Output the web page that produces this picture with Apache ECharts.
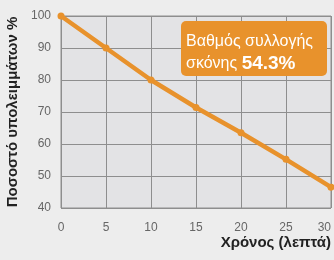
<!DOCTYPE html>
<html>
<head>
<meta charset="utf-8">
<script src="https://cdn.jsdelivr.net/npm/echarts@6/dist/echarts.min.js"></script>
<style>
  html, body { margin: 0; padding: 0; background: #ededed; }
  #chart { width: 334px; height: 260px; }
</style>
</head>
<body>
<div id="chart"></div>
<script>
const minutes = [0, 5, 10, 15, 20, 25, 30];
const residue = [100, 90, 80, 71.4, 63.5, 55.2, 46.5];
const collectionRate = '54.3%';

const dom = document.getElementById('chart');
const myChart = echarts.init(dom);
const orange = '#e8922c';
const font = 'Liberation Sans, Arial, sans-serif';
const option = {
    backgroundColor: '#ededed',
    textStyle: { fontFamily: font },
    grid: {
        left: 61, right: 3, top: 16, bottom: 52,
        outerBoundsMode: 'none', containLabel: false,
        show: true, backgroundColor: '#e3e3e5', borderColor: '#8e8e8e', borderWidth: 1
    },
    xAxis: {
        type: 'value',
        min: 0,
        max: 30,
        interval: 5,
        name: 'Χρόνος (λεπτά)',
        nameLocation: 'end',
        nameGap: 0,
        nameMoveOverlap: false,
        nameTextStyle: { color: '#222', fontSize: 15, fontWeight: 'bold', align: 'right', verticalAlign: 'top', padding: [27, 0, 0, 0] },
        axisLine: { show: false },
        axisTick: { show: false },
        axisLabel: { color: '#666', fontSize: 12, margin: 14, alignMaxLabel: 'right' },
        splitLine: { lineStyle: { color: '#8e8e8e', width: 1 } }
    },
    yAxis: {
        type: 'value',
        min: 40,
        max: 100,
        interval: 10,
        name: 'Ποσοστό υπολειμμάτων %',
        nameLocation: 'middle',
        nameGap: 40,
        nameTextStyle: { color: '#222', fontSize: 15, fontWeight: 'bold' },
        axisLine: { show: false },
        axisTick: { show: false },
        axisLabel: { color: '#666', fontSize: 12, margin: 10 },
        splitLine: { lineStyle: { color: '#8e8e8e', width: 1 } }
    },
    series: [{
        type: 'line',
        data: minutes.map((m, i) => [m, residue[i]]),
        symbol: 'circle',
        symbolSize: 7,
        showSymbol: true,
        lineStyle: { color: orange, width: 4.5 },
        itemStyle: { color: orange },
        animation: false
    }],
    graphic: [{
        type: 'rect',
        shape: { x: 181, y: 21, width: 146, height: 55, r: 5 },
        style: { fill: orange },
        z: 10
    }, {
        type: 'text',
        z: 11,
        style: {
            x: 186,
            y: 31,
            text: 'Βαθμός συλλογής\nσκόνης {b|' + collectionRate + '}',
            fill: '#fff',
            fontSize: 16,
            lineHeight: 22,
            fontFamily: font,
            verticalAlign: 'top',
            rich: {
                b: { fill: '#fff', fontSize: 19, fontWeight: 'bold', fontFamily: font, lineHeight: 22 }
            }
        }
    }]
};
myChart.setOption(option);
window.addEventListener('resize', () => myChart.resize());
</script>
</body>
</html>
